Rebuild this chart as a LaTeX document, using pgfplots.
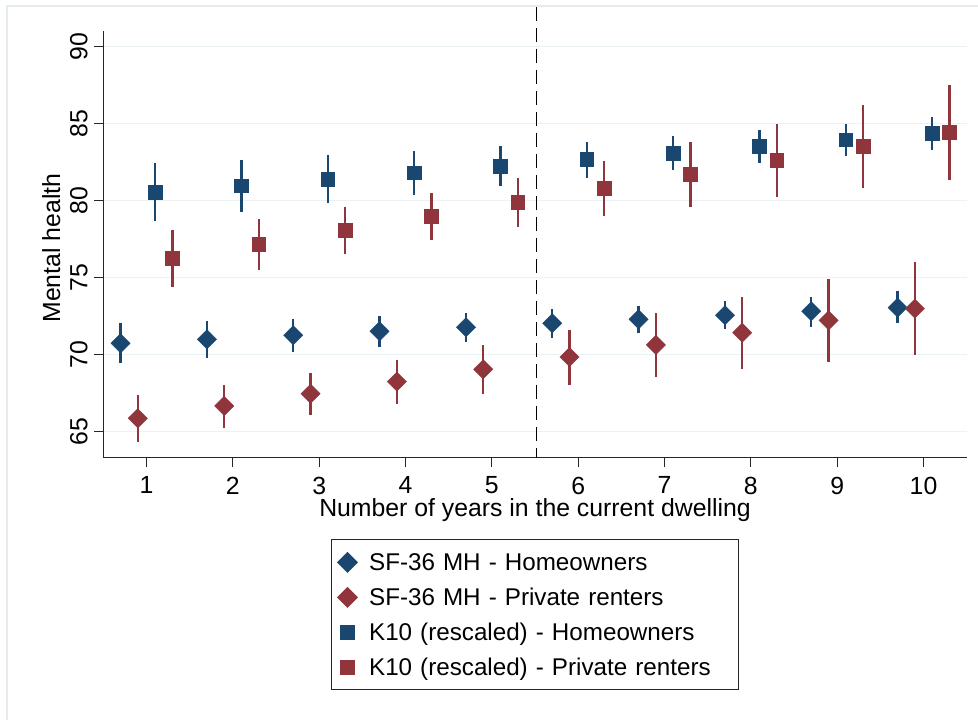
\documentclass[border=0pt]{standalone}
\usepackage{pgfplots}
\pgfplotsset{compat=1.18}
\usepackage{pgfplotstable}
\usepackage{fontspec}
\setmainfont{Liberation Sans}
\definecolor{sblue}{HTML}{1A476F}
\definecolor{sred}{HTML}{90353B}
\definecolor{gridc}{HTML}{EAF2F3}
\definecolor{framec}{HTML}{E4ECEE}

\pgfplotstableread{
x y hi lo
0.7 70.74 72.04 69.44
1.7 71.00 72.17 69.79
2.7 71.26 72.34 70.15
3.7 71.52 72.51 70.50
4.7 71.78 72.71 70.82
5.7 72.04 72.95 71.10
6.7 72.30 73.18 71.39
7.7 72.56 73.47 71.65
8.7 72.82 73.77 71.82
9.7 73.05 74.12 72.04
}\sfhome
\pgfplotstableread{
x y hi lo
0.9 65.87 67.40 64.31
1.9 66.67 68.05 65.26
2.9 67.47 68.81 66.08
3.9 68.25 69.66 66.82
4.9 69.05 70.61 67.47
5.9 69.85 71.62 68.03
6.9 70.63 72.69 68.57
7.9 71.43 73.77 69.05
8.9 72.23 74.92 69.50
9.9 72.99 76.04 69.96
}\sfrent
\pgfplotstableread{
x y hi lo
1.1 80.55 82.43 78.68
2.1 80.97 82.66 79.25
3.1 81.41 82.95 79.83
4.1 81.82 83.23 80.39
5.1 82.25 83.53 80.95
6.1 82.69 83.83 81.49
7.1 83.10 84.20 81.99
8.1 83.53 84.59 82.47
9.1 83.96 85.00 82.90
10.1 84.38 85.45 83.30
}\kthome
\pgfplotstableread{
x y hi lo
1.3 76.28 78.10 74.42
2.3 77.19 78.81 75.52
3.3 78.08 79.59 76.56
4.3 78.99 80.48 77.47
5.3 79.90 81.49 78.27
6.3 80.81 82.60 78.99
7.3 81.71 83.79 79.61
8.3 82.62 85.00 80.22
9.3 83.53 86.23 80.81
10.3 84.44 87.49 81.36
}\ktrent

\begin{document}
\begin{tikzpicture}
\path[use as bounding box] (0pt,0pt) rectangle (978pt,720pt);
\draw[framec, line width=1.5pt] (7pt,714pt) rectangle (1010pt,-30pt);
\begin{axis}[
  at={(103.3pt,262.3pt)}, anchor=south west,
  scale only axis, width=863.4pt, height=426.7pt,
  xmin=0.5, xmax=10.5, ymin=63.31, ymax=91.02,
  clip=false,
  axis x line*=bottom, axis y line*=left,
  axis line style={-, line width=1.2pt, black!85},
  xtick={1,...,10}, ytick={65,70,...,90},
  tick align=outside, major tick length=9pt,
  tick style={line width=1.2pt, black!85},
  ymajorgrids, grid style={gridc, line width=1.5pt},
  /pgf/number format/assume math mode=true,
  tick label style={font=\fontsize{24.8}{28}\selectfont},
  yticklabel style={rotate=90, anchor=south, inner ysep=6.5pt},
  xticklabel style={inner ysep=10pt},
  xlabel={Number of years in the current dwelling},
  ylabel={Mental health},
  every axis x label/.style={at={(axis description cs:0.5,-0.1383)}, anchor=base, font=\fontsize{24.8}{28}\selectfont},
  every axis y label/.style={at={(axis description cs:-0.0604,0.4914)}, rotate=90, anchor=center, font=\fontsize{24.8}{28}\selectfont},
  legend style={at={(axis description cs:0.5,-0.1912)}, anchor=north,
    draw=black!85, line width=1.2pt,
    inner xsep=6pt, inner ysep=9.25pt,
    row sep=8.5pt, column sep=10pt,
    font=\fontsize{24.2}{28}\selectfont,
    nodes={text width=361pt, align=left, inner xsep=2pt, inner ysep=2pt, text height=19pt, text depth=3.5pt}},
  legend cell align=left,
  legend image code/.code={\draw[#1] plot coordinates {(0pt,0pt)};},
]
\draw[black, line width=1.5pt, dash pattern=on 14pt off 7pt] (axis cs:5.52,92.58) -- (axis cs:5.52,63.31);
\addplot[only marks, mark=square*, mark size=6.8pt, mark options={rotate=45, fill=sblue, draw=sblue},
  error bars/.cd, y dir=both, y explicit, error mark=none, error bar style={line width=2.4pt, sblue}]
  table[x=x, y=y, y error plus expr=\thisrow{hi}-\thisrow{y}, y error minus expr=\thisrow{y}-\thisrow{lo}] {\sfhome};
\addlegendentry{SF-36 MH - Homeowners}
\addplot[only marks, mark=square*, mark size=6.8pt, mark options={rotate=45, fill=sred, draw=sred},
  error bars/.cd, y dir=both, y explicit, error mark=none, error bar style={line width=2.4pt, sred}]
  table[x=x, y=y, y error plus expr=\thisrow{hi}-\thisrow{y}, y error minus expr=\thisrow{y}-\thisrow{lo}] {\sfrent};
\addlegendentry{SF-36 MH - Private renters}
\addplot[only marks, mark=square*, mark size=6.8pt, mark options={fill=sblue, draw=sblue},
  error bars/.cd, y dir=both, y explicit, error mark=none, error bar style={line width=2.4pt, sblue}]
  table[x=x, y=y, y error plus expr=\thisrow{hi}-\thisrow{y}, y error minus expr=\thisrow{y}-\thisrow{lo}] {\kthome};
\addlegendentry{K10 (rescaled) - Homeowners}
\addplot[only marks, mark=square*, mark size=6.8pt, mark options={fill=sred, draw=sred},
  error bars/.cd, y dir=both, y explicit, error mark=none, error bar style={line width=2.4pt, sred}]
  table[x=x, y=y, y error plus expr=\thisrow{hi}-\thisrow{y}, y error minus expr=\thisrow{y}-\thisrow{lo}] {\ktrent};
\addlegendentry{K10 (rescaled) - Private renters}
\end{axis}
\end{tikzpicture}
\end{document}
